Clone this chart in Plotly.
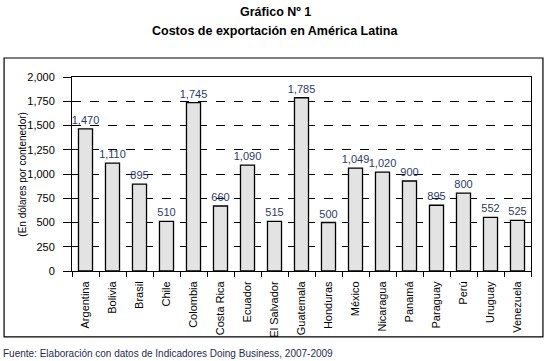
import plotly.graph_objects as go

categories = ["Argentina", "Bolivia", "Brasil", "Chile", "Colombia", "Costa Rica", "Ecuador",
              "El Salvador", "Guatemala", "Honduras", "México", "Nicaragua", "Panamá",
              "Paraguay", "Perú", "Uruguay", "Venezuela"]
bar_values = [1465, 1112, 895, 512, 1735, 670, 1092, 512, 1786, 500, 1060, 1020, 928, 678, 802, 553, 522]
label_text = ["1,470", "1,110", "895", "510", "1,745", "660", "1,090", "515", "1,785", "500",
              "1,049", "1,020", "900", "895", "800", "552", "525"]
y_ticks = [0, 250, 500, 750, 1000, 1250, 1500, 1750, 2000]
y_tick_text = ["0", "250", "500", "750", "1,000", "1,250", "1,500", "1,750", "2,000"]

FONT = "Liberation Sans, Arial, Helvetica, sans-serif"

fig = go.Figure()
fig.add_trace(go.Bar(
    x=categories, y=bar_values, text=label_text, textposition="outside",
    constraintext="none",
    textfont=dict(family=FONT, size=11, color="#2b3a6b"),
    marker=dict(color="#e3e3e3", line=dict(color="black", width=1.3)),
    cliponaxis=False, width=0.52,
))

fig.update_layout(
    width=550, height=361,
    margin=dict(l=72, r=19, t=77, b=90),
    paper_bgcolor="white", plot_bgcolor="white",
    showlegend=False,
    font=dict(family=FONT, size=11, color="black"),
    xaxis=dict(
        tickangle=-90, ticks="outside", ticklen=5, tickson="boundaries",
        tickcolor="black", showline=True, linecolor="black", linewidth=1,
        mirror=True, showgrid=False, tickfont=dict(family=FONT, size=11, color="black"),
        automargin=False, ticklabelstandoff=5,
    ),
    yaxis=dict(
        range=[0, 2000], tickvals=y_ticks, ticktext=y_tick_text,
        ticks="outside", ticklen=8, tickcolor="black",
        showline=True, linecolor="black", linewidth=1, mirror=True,
        showgrid=True, gridcolor="black", griddash="dash", gridwidth=1,
        zeroline=False, tickfont=dict(family=FONT, size=11, color="black"),
        automargin=False, ticklabelstandoff=6,
    ),
    shapes=[dict(type="rect", xref="paper", yref="paper", x0=-0.148, x1=1.026,
                 y0=-0.340, y1=1.098, line=dict(color="black", width=1.2))],
    annotations=[
        dict(text="<b>Gráfico Nº 1</b>", xref="paper", yref="paper", x=0.443, y=1.335,
             showarrow=False, font=dict(family=FONT, size=12.5, color="black"), yanchor="middle"),
        dict(text="<b>Costos de exportación en América Latina</b>", xref="paper", yref="paper",
             x=0.443, y=1.237, showarrow=False, font=dict(family=FONT, size=12.5, color="black"),
             yanchor="middle"),
        dict(text="(En dólares por contenedor)", xref="paper", yref="paper", x=-0.126, y=0.5,
             textangle=-90, showarrow=False, font=dict(family=FONT, size=10, color="black")),
        dict(text="Fuente: Elaboración con datos de Indicadores Doing Business, 2007-2009",
             xref="paper", yref="paper", x=-0.155, y=-0.423, xanchor="left", yanchor="middle",
             showarrow=False, font=dict(family=FONT, size=10, color="#1f2a55")),
    ],
)

fig.write_html("out.html", config={"displayModeBar": False},
               post_script="document.body.style.margin='0';document.body.style.padding='0';")
